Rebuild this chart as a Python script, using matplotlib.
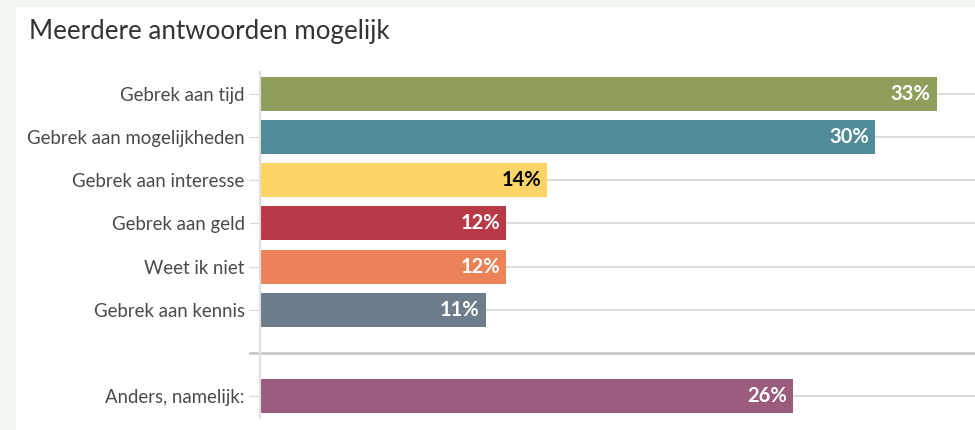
import matplotlib
matplotlib.use("Agg")
import matplotlib.pyplot as plt
from matplotlib.patches import Rectangle

categories = ["Gebrek aan tijd", "Gebrek aan mogelijkheden", "Gebrek aan interesse",
              "Gebrek aan geld", "Weet ik niet", "Gebrek aan kennis", "Anders, namelijk:"]
values = [33, 30, 14, 12, 12, 11, 26]
labels = ["33%", "30%", "14%", "12%", "12%", "11%", "26%"]
colors = ["#8f9e5c", "#508b97", "#fdd466", "#b93a47", "#ec8258", "#6d7d8b", "#9a5c7d"]
label_colors = ["white", "white", "black", "white", "white", "white", "white"]
positions = [0, 1, 2, 3, 4, 5, 7]
separator_pos = 6

plt.rcParams['font.family'] = ['Lato', 'DejaVu Sans']

fig = plt.figure(figsize=(9.75, 4.3), dpi=100)
fig.patch.set_facecolor("#f1f7ef")
fig.patches.append(Rectangle((16/975, 0), 1, 1 - 7/430, transform=fig.transFigure,
                             facecolor="white", edgecolor="none", zorder=-5))

ax = fig.add_axes([260/975, 12/430, 715/975, 346/430])
ax.set_zorder(2)
ax.set_facecolor("white")
ax.set_xlim(0, 715/20.5)
ax.set_ylim(7.5, -0.5)

for p in positions:
    ax.axhline(p, color="#d2d2d2", lw=1.1, zorder=0)
ax.plot([-10/20.5, 715/20.5], [separator_pos, separator_pos], color="#c8c8c8", lw=2,
        clip_on=False, zorder=1)

ax.barh(positions, values, height=0.79, color=colors, zorder=2)
for p, v, lab, c in zip(positions, values, labels, label_colors):
    ax.text(v - 0.3, p, lab, ha="right", va="center", color=c, fontsize=14.5,
            fontweight="bold", zorder=3)

ax.set_yticks(positions)
ax.set_yticklabels(categories, fontsize=13.4, color="#4a4a4a")
ax.tick_params(axis="y", length=8, color="#d8d8d8", pad=3)
ax.set_xticks([])
for s in ["top", "right", "bottom"]:
    ax.spines[s].set_visible(False)
ax.spines["left"].set_color("#e0e0e0")
ax.spines["left"].set_linewidth(1.5)

fig.text(29/975, 1 - 32/430, "Meerdere antwoorden mogelijk", fontsize=18.7,
         color="#333333", va="center", ha="left")

fig.savefig("out.png", dpi=100, facecolor=fig.get_facecolor())
